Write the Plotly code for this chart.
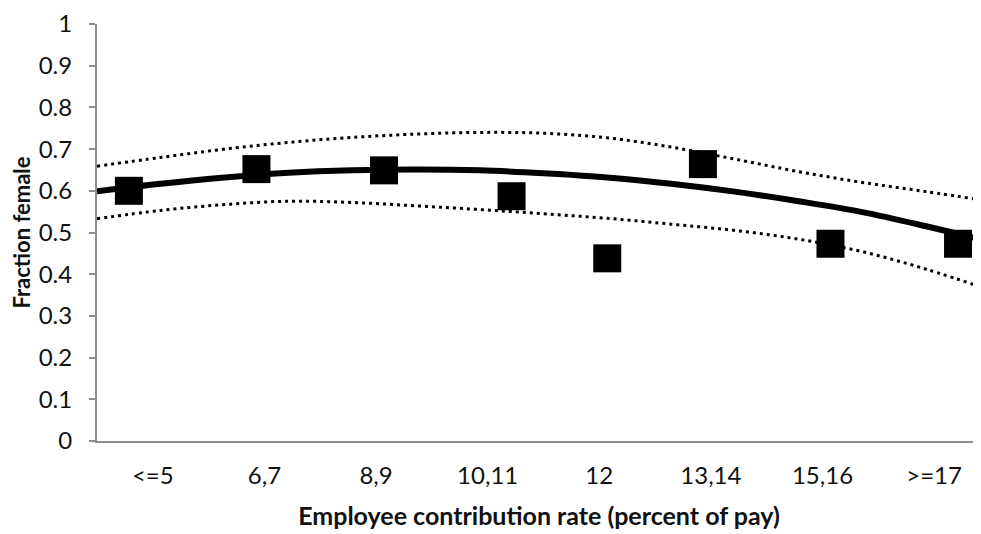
"""plot.py — fraction female by employee contribution rate, with quadratic fit and bands."""

import plotly.graph_objects as go

# Observed points (x = midpoint of contribution-rate bucket, % of pay)
point_x = [4.5, 6.5, 8.5, 10.5, 12, 13.5, 15.5, 17.5]
point_y = [0.600, 0.652, 0.649, 0.587, 0.438, 0.664, 0.473, 0.473]

# Bucket labels along the bottom axis
categories = ["<=5", "6,7", "8,9", "10,11", "12", "13,14", "15,16", ">=17"]

# Fitted curve and its upper/lower bands
curve_x = [4, 5, 6, 7, 8, 9, 10, 11, 12, 13, 14, 15, 16, 17, 18]
fit_y = [0.599, 0.617, 0.632, 0.643, 0.649, 0.651, 0.649, 0.642,
         0.632, 0.617, 0.598, 0.575, 0.549, 0.515, 0.478]
upper_y = [0.659, 0.680, 0.700, 0.716, 0.728, 0.736, 0.740, 0.738,
           0.727, 0.705, 0.676, 0.646, 0.620, 0.598, 0.575]
lower_y = [0.533, 0.553, 0.567, 0.575, 0.572, 0.564, 0.555, 0.545,
           0.534, 0.520, 0.505, 0.484, 0.454, 0.412, 0.362]

X_MIN, X_MAX = 4, 17.86
AXIS_GREY = "#8c8c8c"
FONT = "Lato, 'Noto Sans', sans-serif"

# category labels sit centred in equal bands across 4..18
band = (18 - 4) / len(categories)
tick_pos = [4 + band * (i + 0.5) for i in range(len(categories))]

fig = go.Figure()

for ys in (upper_y, lower_y):
    fig.add_trace(
        go.Scatter(
            x=curve_x,
            y=ys,
            mode="lines",
            line={"color": "#000", "width": 3, "dash": "3px,4px", "shape": "spline"},
            showlegend=False,
            hoverinfo="skip",
        )
    )

fig.add_trace(
    go.Scatter(
        x=curve_x,
        y=fit_y,
        mode="lines",
        line={"color": "#000", "width": 6, "shape": "spline"},
        showlegend=False,
    )
)

fig.add_trace(
    go.Scatter(
        x=point_x,
        y=point_y,
        mode="markers",
        marker={"symbol": "square", "size": 28, "color": "#000", "line": {"width": 0}},
        showlegend=False,
    )
)

# the page body adds an 8px margin, so the figure is sized/offset to compensate
fig.update_layout(
    width=973,
    height=526,
    paper_bgcolor="white",
    plot_bgcolor="white",
    font={"family": FONT, "color": "#111", "size": 24},
    margin={"t": 10, "b": 93, "l": 89, "r": 0, "pad": 0},
    xaxis={
        "range": [X_MIN, X_MAX],
        "tickmode": "array",
        "tickvals": tick_pos,
        "ticktext": categories,
        "ticks": "",
        "showgrid": False,
        "zeroline": False,
        "showline": True,
        "linecolor": AXIS_GREY,
        "linewidth": 2,
        "ticklabelstandoff": 12,
        "ticklabeloverflow": "allow",
        "title": {
            "text": "<b>Employee contribution rate (percent of pay)</b>",
            "font": {"size": 25},
            "standoff": 20,
        },
    },
    yaxis={
        "range": [0, 1],
        "dtick": 0.1,
        "ticks": "outside",
        "ticklen": 6,
        "tickwidth": 2,
        "tickcolor": AXIS_GREY,
        "showgrid": False,
        "zeroline": False,
        "showline": True,
        "linecolor": AXIS_GREY,
        "linewidth": 2,
        "ticklabelstandoff": 12,
        "ticklabeloverflow": "allow",
        "title": {
            "text": "<b>Fraction female</b>",
            "font": {"size": 22},
            "standoff": 2,
        },
    },
)

fig.write_html("out.html")
